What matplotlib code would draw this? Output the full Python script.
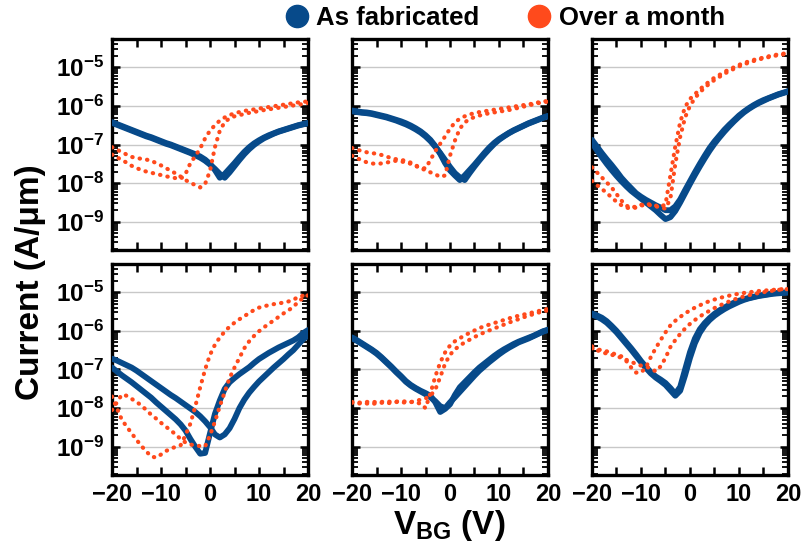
import matplotlib

matplotlib.use('Agg')
import matplotlib.pyplot as plt
import matplotlib.lines as mlines
from matplotlib.ticker import MultipleLocator, LogLocator, FuncFormatter, NullFormatter
import numpy as np

plt.rcParams['font.family'] = ['Liberation Sans', 'DejaVu Sans']
plt.rcParams['font.weight'] = 'bold'
plt.rcParams['mathtext.fontset'] = 'custom'
plt.rcParams['mathtext.rm'] = 'Liberation Sans:bold'
plt.rcParams['mathtext.bf'] = 'Liberation Sans:bold'
plt.rcParams['mathtext.it'] = 'Liberation Sans:bold'

BLUE = '#074a8a'
ORANGE = '#ff4a1c'

# gate voltage grid (V), 1 V steps
VG = list(range(-20, 21))

# log10 of current (A/um), two sweeps per state, panels in reading order
p1_fab_a = [-6.42, -6.47, -6.52, -6.57, -6.62, -6.67, -6.72, -6.77, -6.81, -6.86, -6.91,
            -6.96, -7.00, -7.05, -7.10, -7.15, -7.20, -7.25, -7.31, -7.39, -7.50, -7.66,
            -7.86, -7.76, -7.62, -7.48, -7.33, -7.19, -7.07, -6.97, -6.89, -6.82, -6.76,
            -6.71, -6.66, -6.62, -6.58, -6.54, -6.50, -6.47, -6.44]
p1_fab_b = [-6.44, -6.49, -6.54, -6.59, -6.64, -6.69, -6.74, -6.79, -6.83, -6.88, -6.93,
            -6.98, -7.02, -7.07, -7.12, -7.17, -7.22, -7.28, -7.34, -7.42, -7.52, -7.63,
            -7.76, -7.86, -7.72, -7.56, -7.40, -7.25, -7.12, -7.01, -6.92, -6.84, -6.78,
            -6.72, -6.67, -6.63, -6.59, -6.55, -6.51, -6.48, -6.45]
p1_mon_a = [-7.07, -7.13, -7.20, -7.26, -7.32, -7.35, -7.37, -7.39, -7.42, -7.48, -7.54,
            -7.61, -7.68, -7.75, -7.83, -7.92, -7.99, -8.05, -8.11, -8.02, -7.68, -7.07,
            -6.64, -6.42, -6.32, -6.27, -6.24, -6.21, -6.18, -6.16, -6.13, -6.11, -6.09,
            -6.07, -6.05, -6.03, -6.01, -5.99, -5.97, -5.95, -5.93]
p1_mon_b = [-7.26, -7.33, -7.40, -7.47, -7.55, -7.61, -7.66, -7.70, -7.73, -7.76, -7.79,
            -7.82, -7.85, -7.87, -7.89, -7.76, -7.48, -7.30, -7.10, -6.84, -6.64, -6.50,
            -6.38, -6.30, -6.24, -6.19, -6.16, -6.13, -6.11, -6.09, -6.07, -6.05, -6.03,
            -6.01, -5.99, -5.97, -5.95, -5.93, -5.91, -5.90, -5.88]

p2_fab_a = [-6.12, -6.14, -6.16, -6.17, -6.19, -6.22, -6.25, -6.28, -6.32, -6.36, -6.40,
            -6.45, -6.51, -6.58, -6.66, -6.76, -6.88, -7.04, -7.24, -7.48, -7.67, -7.80,
            -7.92, -7.80, -7.66, -7.52, -7.37, -7.22, -7.08, -6.96, -6.86, -6.78, -6.70,
            -6.63, -6.57, -6.51, -6.45, -6.40, -6.35, -6.30, -6.26]
p2_fab_b = [-6.14, -6.16, -6.18, -6.19, -6.21, -6.24, -6.27, -6.30, -6.34, -6.38, -6.43,
            -6.48, -6.54, -6.61, -6.69, -6.79, -6.91, -7.06, -7.22, -7.40, -7.58, -7.74,
            -7.85, -7.92, -7.74, -7.57, -7.41, -7.26, -7.12, -6.99, -6.88, -6.79, -6.71,
            -6.64, -6.58, -6.52, -6.46, -6.41, -6.36, -6.31, -6.27]
p2_mon_a = [-7.09, -7.13, -7.17, -7.20, -7.22, -7.24, -7.27, -7.31, -7.35, -7.38, -7.40,
            -7.42, -7.47, -7.54, -7.60, -7.67, -7.72, -7.77, -7.84, -7.80, -7.29, -6.90,
            -6.59, -6.43, -6.34, -6.29, -6.25, -6.22, -6.19, -6.17, -6.15, -6.13, -6.11,
            -6.08, -6.05, -6.02, -5.99, -5.96, -5.93, -5.91, -5.89]
p2_mon_b = [-7.29, -7.35, -7.41, -7.46, -7.49, -7.50, -7.49, -7.47, -7.44, -7.42, -7.44,
            -7.46, -7.50, -7.56, -7.60, -7.62, -7.40, -7.17, -6.98, -6.79, -6.59, -6.43,
            -6.33, -6.27, -6.22, -6.19, -6.16, -6.14, -6.12, -6.10, -6.08, -6.06, -6.04,
            -6.02, -6.00, -5.98, -5.96, -5.94, -5.91, -5.89, -5.87]

p3_fab_a = [-6.88, -7.05, -7.22, -7.38, -7.53, -7.69, -7.86, -8.00, -8.13, -8.26, -8.35,
            -8.43, -8.50, -8.57, -8.63, -8.70, -8.70, -8.60, -8.42, -8.18, -7.95, -7.72,
            -7.50, -7.29, -7.09, -6.92, -6.77, -6.62, -6.49, -6.37, -6.25, -6.15, -6.06,
            -5.98, -5.91, -5.85, -5.80, -5.75, -5.70, -5.66, -5.62]
p3_fab_b = [-6.95, -7.15, -7.33, -7.50, -7.66, -7.81, -7.95, -8.08, -8.20, -8.30, -8.40,
            -8.50, -8.60, -8.70, -8.82, -8.93, -8.88, -8.72, -8.50, -8.26, -8.02, -7.79,
            -7.57, -7.36, -7.16, -6.98, -6.82, -6.67, -6.53, -6.40, -6.28, -6.17, -6.08,
            -6.00, -5.93, -5.87, -5.81, -5.76, -5.71, -5.67, -5.63]
p3_mon_a = [-7.59, -7.72, -7.85, -7.98, -8.11, -8.28, -8.45, -8.58, -8.64, -8.60, -8.56,
            -8.54, -8.55, -8.58, -8.61, -8.55, -7.80, -7.05, -6.42, -6.03, -5.82, -5.70,
            -5.57, -5.47, -5.36, -5.27, -5.20, -5.12, -5.06, -5.00, -4.94, -4.89, -4.85,
            -4.81, -4.78, -4.75, -4.72, -4.69, -4.67, -4.65, -4.63]
p3_mon_b = [-7.94, -8.05, -8.15, -8.25, -8.37, -8.48, -8.57, -8.63, -8.66, -8.63, -8.58,
            -8.56, -8.57, -8.60, -8.63, -8.66, -8.40, -7.50, -6.80, -6.30, -6.00, -5.80,
            -5.65, -5.53, -5.42, -5.33, -5.25, -5.17, -5.10, -5.04, -4.98, -4.93, -4.88,
            -4.84, -4.80, -4.77, -4.74, -4.71, -4.69, -4.67, -4.65]

p4_fab_a = [-6.72, -6.77, -6.83, -6.89, -6.95, -7.03, -7.12, -7.21, -7.30, -7.39, -7.48,
            -7.57, -7.66, -7.74, -7.83, -7.92, -8.01, -8.10, -8.21, -8.34, -8.49, -8.68,
            -8.76, -8.68, -8.52, -8.28, -8.00, -7.78, -7.60, -7.45, -7.31, -7.19, -7.07,
            -6.95, -6.84, -6.73, -6.61, -6.50, -6.36, -6.22, -6.12]
p4_fab_b = [-6.95, -7.05, -7.15, -7.24, -7.33, -7.43, -7.53, -7.63, -7.73, -7.85, -7.96,
            -8.07, -8.18, -8.29, -8.42, -8.58, -8.80, -9.00, -9.18, -9.16, -8.65, -8.15,
            -7.80, -7.50, -7.33, -7.22, -7.12, -7.03, -6.94, -6.83, -6.73, -6.65, -6.57,
            -6.50, -6.43, -6.37, -6.31, -6.25, -6.17, -6.06, -5.98]
p4_mon_a = [-8.05, -7.85, -7.65, -7.68, -7.76, -7.84, -7.93, -8.05, -8.17, -8.27, -8.38,
            -8.48, -8.58, -8.68, -8.80, -8.89, -8.94, -8.97, -8.98, -8.99, -8.70, -8.35,
            -7.95, -7.58, -7.22, -6.95, -6.70, -6.45, -6.27, -6.13, -6.01, -5.91, -5.82,
            -5.73, -5.64, -5.55, -5.47, -5.38, -5.25, -5.15, -5.08]
p4_mon_b = [-7.70, -8.00, -8.30, -8.48, -8.65, -8.82, -8.98, -9.12, -9.25, -9.28, -9.20,
            -9.11, -9.05, -9.00, -8.96, -8.70, -8.40, -7.95, -7.46, -7.00, -6.62, -6.36,
            -6.17, -6.02, -5.89, -5.79, -5.70, -5.62, -5.54, -5.46, -5.40, -5.36, -5.34,
            -5.31, -5.29, -5.27, -5.24, -5.20, -5.12, -5.09, -5.07]

p5_fab_a = [-6.17, -6.24, -6.32, -6.40, -6.48, -6.57, -6.68, -6.80, -6.92, -7.05, -7.17,
            -7.30, -7.40, -7.48, -7.55, -7.61, -7.68, -7.85, -8.10, -8.02, -7.90, -7.66,
            -7.46, -7.33, -7.20, -7.07, -6.95, -6.85, -6.75, -6.65, -6.56, -6.48, -6.41,
            -6.34, -6.28, -6.23, -6.18, -6.13, -6.07, -6.01, -5.97]
p5_fab_b = [-6.19, -6.26, -6.34, -6.42, -6.50, -6.59, -6.70, -6.82, -6.94, -7.07, -7.19,
            -7.32, -7.42, -7.50, -7.57, -7.64, -7.72, -7.82, -7.95, -8.00, -7.85, -7.72,
            -7.58, -7.44, -7.30, -7.16, -7.03, -6.92, -6.81, -6.71, -6.61, -6.52, -6.44,
            -6.37, -6.30, -6.25, -6.20, -6.14, -6.08, -6.02, -5.98]
p5_mon_a = [-7.86, -7.89, -7.87, -7.88, -7.90, -7.87, -7.86, -7.88, -7.86, -7.84, -7.86,
            -7.85, -7.84, -7.86, -7.88, -8.00, -7.62, -7.18, -6.82, -6.56, -6.38, -6.27,
            -6.19, -6.12, -6.05, -5.99, -5.93, -5.88, -5.84, -5.80, -5.76, -5.72, -5.68,
            -5.64, -5.61, -5.58, -5.55, -5.52, -5.49, -5.46, -5.43]
p5_mon_b = [-7.84, -7.85, -7.86, -7.84, -7.83, -7.85, -7.84, -7.82, -7.84, -7.83, -7.82,
            -7.83, -7.84, -7.82, -7.78, -7.75, -7.68, -7.52, -7.20, -6.85, -6.62, -6.48,
            -6.38, -6.30, -6.23, -6.16, -6.10, -6.04, -5.99, -5.94, -5.89, -5.84, -5.79,
            -5.74, -5.70, -5.65, -5.61, -5.57, -5.53, -5.50, -5.47]

p6_fab_a = [-5.55, -5.60, -5.66, -5.75, -5.87, -6.00, -6.15, -6.30, -6.45, -6.61, -6.78,
            -6.93, -7.07, -7.18, -7.26, -7.35, -7.48, -7.63, -7.45, -7.00, -6.55, -6.20,
            -5.96, -5.80, -5.67, -5.56, -5.47, -5.40, -5.33, -5.27, -5.22, -5.18, -5.15,
            -5.12, -5.09, -5.07, -5.05, -5.03, -5.02, -5.01, -5.00]
p6_fab_b = [-5.58, -5.63, -5.70, -5.79, -5.91, -6.04, -6.19, -6.34, -6.49, -6.65, -6.81,
            -6.96, -7.10, -7.21, -7.30, -7.40, -7.54, -7.68, -7.55, -7.15, -6.70, -6.32,
            -6.05, -5.86, -5.72, -5.61, -5.52, -5.44, -5.37, -5.31, -5.25, -5.20, -5.16,
            -5.13, -5.10, -5.08, -5.06, -5.04, -5.03, -5.02, -5.01]
p6_mon_a = [-6.45, -6.48, -6.50, -6.53, -6.57, -6.62, -6.66, -6.78, -6.95, -7.08, -7.08,
            -6.95, -6.68, -6.45, -6.24, -6.04, -5.86, -5.74, -5.64, -5.55, -5.47, -5.40,
            -5.34, -5.28, -5.23, -5.19, -5.15, -5.12, -5.09, -5.06, -5.04, -5.02, -5.00,
            -4.99, -4.97, -4.96, -4.95, -4.94, -4.93, -4.92, -4.91]
p6_mon_b = [-6.40, -6.50, -6.55, -6.59, -6.62, -6.65, -6.70, -6.75, -6.80, -6.86, -6.90,
            -6.93, -6.97, -7.05, -6.92, -6.70, -6.42, -6.24, -6.08, -5.94, -5.82, -5.72,
            -5.63, -5.55, -5.48, -5.41, -5.35, -5.29, -5.24, -5.19, -5.15, -5.11, -5.08,
            -5.05, -5.02, -5.00, -4.98, -4.96, -4.94, -4.93, -4.92]

panels = [
    (p1_fab_a, p1_fab_b, p1_mon_a, p1_mon_b),
    (p2_fab_a, p2_fab_b, p2_mon_a, p2_mon_b),
    (p3_fab_a, p3_fab_b, p3_mon_a, p3_mon_b),
    (p4_fab_a, p4_fab_b, p4_mon_a, p4_mon_b),
    (p5_fab_a, p5_fab_b, p5_mon_a, p5_mon_b),
    (p6_fab_a, p6_fab_b, p6_mon_a, p6_mon_b),
]


def style_axis(ax, row, col):
  ax.set_yscale('log')
  ax.set_xlim(-20, 20)
  ax.set_ylim(10**-9.73, 10**-4.27)
  ax.xaxis.set_major_locator(MultipleLocator(10))
  ax.xaxis.set_minor_locator(MultipleLocator(5))
  ax.yaxis.set_major_locator(LogLocator(base=10, numticks=20))
  ax.yaxis.set_minor_locator(LogLocator(base=10, subs=np.arange(2, 10), numticks=20))
  ax.yaxis.set_minor_formatter(NullFormatter())
  ax.yaxis.set_major_formatter(
      FuncFormatter(lambda v, p: r'$\mathbf{10^{%d}}$' % round(np.log10(v))
                    if -9.5 < np.log10(v) < -4.5 else ''))
  ax.xaxis.set_major_formatter(FuncFormatter(lambda v, p: f'{int(v)}'.replace('-', '\u2212')))
  ax.grid(True, which='major', axis='y', color='#c8c8c8', linewidth=1.0)
  ax.tick_params(which='both', direction='in', top=True, right=True, width=1.8, pad=6)
  ax.tick_params(axis='x', labelsize=17)
  ax.tick_params(axis='y', labelsize=17.5)
  ax.tick_params(which='major', length=6)
  ax.tick_params(axis='x', which='minor', length=6)
  ax.tick_params(axis='y', which='minor', length=4, width=1.3)
  for s in ax.spines.values():
    s.set_linewidth(2.4)
  if row == 0:
    ax.tick_params(labelbottom=False)
  if col > 0:
    ax.tick_params(labelleft=False)


fig, axes = plt.subplots(2, 3, figsize=(8.03, 5.54), dpi=100)
fig.subplots_adjust(left=0.1395, right=0.9813, bottom=0.1426, top=0.9296,
                    wspace=0.2245, hspace=0.066)

for i, (fa, fb, ma, mb) in enumerate(panels):
  ax = axes[i // 3][i % 3]
  # as fabricated (blue, thick band)
  for arr in (fa, fb):
    ax.plot(VG, 10**np.array(arr), color=BLUE, lw=4.2, solid_capstyle='round',
            solid_joinstyle='round', zorder=3)
  # over a month (orange dotted)
  for arr in (ma, mb):
    ax.plot(VG, 10**np.array(arr), color=ORANGE, lw=3.0,
            linestyle=(0, (0.1, 1.7)), dash_capstyle='round', zorder=4)
  style_axis(ax, i // 3, i % 3)

# legend at the top
legend_handles = [
    mlines.Line2D([], [], marker='o', color=BLUE, linestyle='None', markersize=16,
                  label='As fabricated'),
    mlines.Line2D([], [], marker='o', color=ORANGE, linestyle='None', markersize=16,
                  label='Over a month'),
]
fig.legend(handles=legend_handles, loc='center', bbox_to_anchor=(0.628, 0.967), ncol=2,
           frameon=False, fontsize=18.5, handletextpad=0.25, columnspacing=1.85,
           borderaxespad=0, handlelength=1.0)

fig.text(0.038, 0.49, 'Current (A/\u03bcm)', rotation=90, ha='center', va='center',
         fontsize=24, fontweight='bold')
fig.text(0.56, 0.052, r'$\mathbf{V_{BG}}$ (V)', ha='center', va='center', fontsize=24,
         fontweight='bold')

plt.savefig('out.png', dpi=100)
plt.close()
